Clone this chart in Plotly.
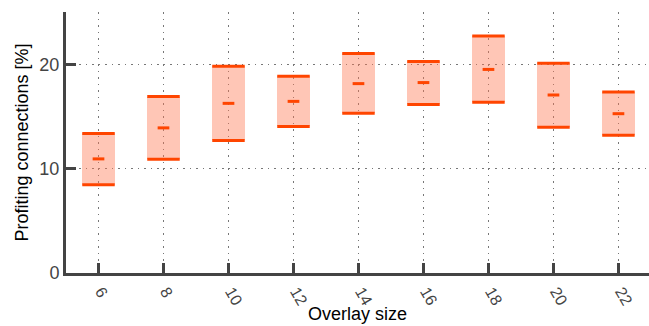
import plotly.graph_objects as go

overlay_size = [6, 8, 10, 12, 14, 16, 18, 20, 22]
low = [8.46, 10.9, 12.7, 14.04, 15.29, 16.15, 16.35, 13.97, 13.2]
median = [10.93, 13.9, 16.25, 16.44, 18.14, 18.24, 19.5, 17.05, 15.26]
high = [13.37, 16.9, 19.8, 18.85, 21.03, 20.26, 22.7, 20.1, 17.34]

LINE = "#ff4500"
FILL = "rgba(255,120,80,0.42)"
BOX_HALF = 0.5
MED_HALF = 0.18

fig = go.Figure()

fig.add_trace(go.Bar(
    x=overlay_size,
    y=[h - l for h, l in zip(high, low)],
    base=low,
    width=2 * BOX_HALF,
    marker=dict(color=FILL, line=dict(width=0)),
    hoverinfo="skip",
))

def seg_xy(vals, half):
    xs, ys = [], []
    for x, v in zip(overlay_size, vals):
        xs += [x - half, x + half, None]
        ys += [v, v, None]
    return xs, ys

for vals, half in [(low, BOX_HALF), (high, BOX_HALF), (median, MED_HALF)]:
    xs, ys = seg_xy(vals, half)
    fig.add_trace(go.Scatter(
        x=xs, y=ys, mode="lines",
        line=dict(color=LINE, width=3),
        hoverinfo="skip",
    ))

fig.update_layout(
    width=649, height=326,
    margin=dict(l=66, r=0, t=12, b=53, autoexpand=False),
    plot_bgcolor="white", paper_bgcolor="white",
    showlegend=False,
    font=dict(family="Liberation Sans, Arial, sans-serif", size=17, color="#444"),
    bargap=0,
    annotations=[
        dict(text="Overlay size", xref="paper", yref="paper", x=0.5, y=0,
             yshift=-41, xanchor="center", yanchor="middle", showarrow=False,
             font=dict(color="black", size=18)),
        dict(text="Profiting connections [%]", xref="paper", yref="paper", x=0, y=0.5,
             xshift=-45, xanchor="center", yanchor="middle", showarrow=False, textangle=-90,
             font=dict(color="black", size=18)),
    ],
)

fig.update_xaxes(
    range=[5, 22.94],
    tickvals=overlay_size,
    ticktext=[str(v) for v in overlay_size],
    tickangle=60,
    ticklabelshift=3,
    ticks="inside", ticklen=10, tickwidth=3, tickcolor="#444",
    showline=True, linecolor="#444", linewidth=3,
    showgrid=True, gridcolor="#777", gridwidth=1, griddash="1.5px,5px",
    zeroline=False, automargin=False,
    tickfont=dict(color="#444", size=16),
)
fig.update_yaxes(
    range=[0, 25],
    tickvals=[0, 10, 20],
    ticks="inside", ticklen=10, tickwidth=3, tickcolor="#444",
    showline=True, linecolor="#444", linewidth=3,
    showgrid=True, gridcolor="#777", gridwidth=1, griddash="1.5px,5px",
    zeroline=False, automargin=False,
    tickfont=dict(color="#444", size=18),
)

fig.write_html("out.html", config={"displayModeBar": False},
               post_script="document.body.style.margin='0';")
